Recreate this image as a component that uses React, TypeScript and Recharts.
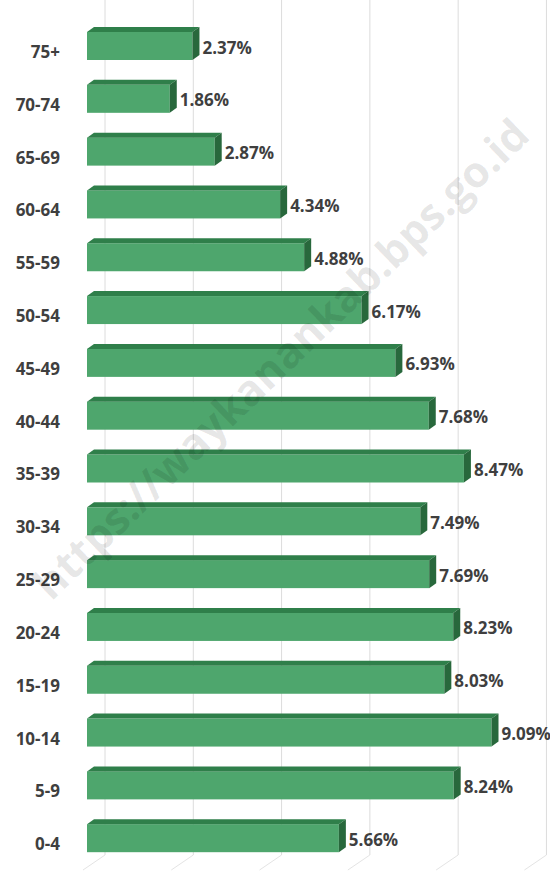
import React from 'react';
import { BarChart, Bar, XAxis, YAxis, CartesianGrid, LabelList } from 'recharts';

const ageGroups = ['75+', '70-74', '65-69', '60-64', '55-59', '50-54', '45-49', '40-44', '35-39', '30-34', '25-29', '20-24', '15-19', '10-14', '5-9', '0-4'];
const percentages = [2.37, 1.86, 2.87, 4.34, 4.88, 6.17, 6.93, 7.68, 8.47, 7.49, 7.69, 8.23, 8.03, 9.09, 8.24, 5.66];
const gridTicks = [0, 2, 4, 6, 8, 10];
const X_MAX = 10;

const data = ageGroups.map((age, i) => ({ age, pct: percentages[i] }));

const FONT = '"Open Sans", "Noto Sans", sans-serif';
const DEPTH_X = 7;
const DEPTH_Y = 5;

// 3D-looking bar: front face, top face and right side face
const Bar3D = (props: any) => {
  const { x, y, width, height } = props;
  if (width <= 0) return null;
  const top = `${x},${y} ${x + DEPTH_X},${y - DEPTH_Y} ${x + width + DEPTH_X},${y - DEPTH_Y} ${x + width},${y}`;
  const side = `${x + width},${y} ${x + width + DEPTH_X},${y - DEPTH_Y} ${x + width + DEPTH_X},${y + height - DEPTH_Y} ${x + width},${y + height}`;
  return (
    <g>
      <rect x={x} y={y} width={width} height={height} fill="#4ea66d" />
      <polygon points={top} fill="#2f7f4a" />
      <polygon points={side} fill="#28683c" />
    </g>
  );
};

const AgeTick = (props: any) => {
  const { y, payload } = props;
  return (
    <text x={60} y={y + 7} textAnchor="end" dominantBaseline="middle" fontFamily={FONT} fontWeight={700} fontSize={17} fill="#3f3f3f">
      {payload.value}
    </text>
  );
};

const PctLabel = (props: any) => {
  const { x, y, width, height, value } = props;
  return (
    <text x={x + width + DEPTH_X + 3} y={y + height / 2 + 3} dominantBaseline="middle" fontFamily={FONT} fontWeight={700} fontSize={17} fill="#3f3f3f">
      {`${Number(value).toFixed(2)}%`}
    </text>
  );
};

// gridlines sit on the back wall, then run down-left across the floor
const WallLine = (props: any) => {
  const { x1, y1, y2 } = props;
  const gx = 105 + (x1 - 87) * 0.992;
  const floorY = y2 - 10;
  return (
    <g>
      <line x1={gx} y1={y1} x2={gx} y2={floorY} stroke="#dcdcdc" strokeWidth={1} />
      <line x1={gx} y1={floorY} x2={gx - 22} y2={floorY + 15} stroke="#e4e4e4" strokeWidth={1} />
    </g>
  );
};

export default function App() {
  return (
    <div style={{ position: 'absolute', left: 0, top: 0, width: 550, height: 873, background: '#fff', overflow: 'hidden' }}>
      <BarChart
        width={550}
        height={873}
        data={data}
        layout="vertical"
        margin={{ top: 0, right: 18, bottom: 8, left: 0 }}
        barSize={28}
      >
        <CartesianGrid
          horizontal={false}
          vertical={(p: any) => <WallLine key={p.key ?? `${p.x1}`} {...p} />}
          verticalCoordinatesGenerator={({ offset }: any) =>
            gridTicks.map((t) => offset.left + (t / X_MAX) * offset.width)
          }
        />
        <XAxis type="number" domain={[0, X_MAX]} ticks={gridTicks} hide />
        <YAxis
          type="category"
          dataKey="age"
          width={87}
          axisLine={false}
          tickLine={false}
          padding={{ top: 20, bottom: 0 }}
          tick={<AgeTick />}
          interval={0}
        />
        <Bar dataKey="pct" shape={<Bar3D />} isAnimationActive={false}>
          <LabelList dataKey="pct" content={<PctLabel />} />
        </Bar>
      </BarChart>
      <div
        style={{
          position: 'absolute',
          left: 280,
          top: 358,
          transform: 'translate(-50%, -50%) rotate(-44deg)',
          fontFamily: FONT,
          fontWeight: 700,
          fontSize: 43,
          color: 'rgba(0,0,0,0.1)',
          whiteSpace: 'nowrap',
          pointerEvents: 'none',
        }}
      >
        https://waykanankab.bps.go.id
      </div>
    </div>
  );
}
